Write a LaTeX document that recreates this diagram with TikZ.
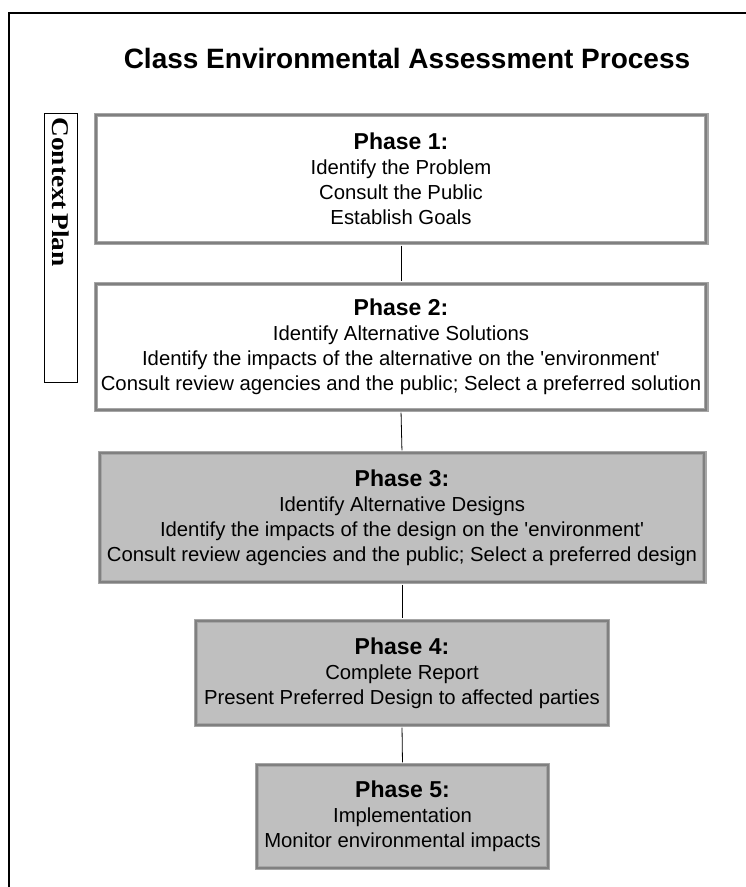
\documentclass[tikz,border=0pt]{standalone}
\usepackage{fontspec}
\setmainfont{Liberation Sans}
\newfontfamily\ctxfont{Liberation Serif}
\usepackage{graphicx}
\usepackage{tikz}
\usepackage{xcolor}

\newcommand{\phasehead}[1]{{\bfseries\fontsize{23}{25}\selectfont Phase #1:}}

\begin{document}
\begin{tikzpicture}[x=1pt,y=-1pt,
  phase/.style={draw=gray!70, double=gray, double distance=2pt, line width=1.2pt,
    align=center, inner sep=0pt, font=\fontsize{20.3}{25}\selectfont},
  plainbox/.style={phase, fill=white},
  shadedbox/.style={phase, fill=gray!50},
  link/.style={draw=black, line width=0.8pt, shorten <=2.2pt, shorten >=2.2pt}]
  \useasboundingbox (0,0) rectangle (746,887);
  % frame and title
  \draw[line width=2pt] (746,13) -- (9,13) -- (9,887);
  \node[font=\bfseries\fontsize{28}{30}\selectfont] (title) at (407,58)
    {Class Environmental Assessment Process};
  % context plan
  \node[draw, line width=1.5pt, rotate=-90, minimum width=269, minimum height=33,
    text width=261, inner xsep=4pt, align=left] (ctx) at (61,248)
    {\ctxfont\bfseries\fontsize{27.3}{28}\selectfont\scalebox{1}[0.88]{Context Plan}};
  % phases
  \node[plainbox, minimum width=610.6, minimum height=127.6] (p1) at (401,179)
    {\phasehead{1}\\ Identify the Problem\\ Consult the Public\\ Establish Goals};
  \node[plainbox, minimum width=610.6, minimum height=125.6] (p2) at (401,347)
    {\phasehead{2}\\ Identify Alternative Solutions\\
     Identify the impacts of the alternative on the \textquotesingle environment\textquotesingle\\
     Consult review agencies and the public; Select a preferred solution};
  \node[shadedbox, minimum width=604.6, minimum height=128.6] (p3) at (402,517.5)
    {\phasehead{3}\\ Identify Alternative Designs\\
     Identify the impacts of the design on the \textquotesingle environment\textquotesingle\\
     Consult review agencies and the public; Select a preferred design};
  \node[shadedbox, minimum width=411.6, minimum height=103.6] (p4) at (402,673)
    {\phasehead{4}\\ Complete Report\\ Present Preferred Design to affected parties};
  \node[shadedbox, minimum width=290.6, minimum height=102.6] (p5) at (402.5,816.5)
    {\phasehead{5}\\ Implementation\\ Monitor environmental impacts};
  % links
  \draw[link] (p1.south) -- (p2.north);
  \draw[link] (p2.south) -- (p3.north);
  \draw[link] (p3.south) -- (p4.north);
  \draw[link] (p4.south) -- (p5.north);
\end{tikzpicture}
\end{document}
